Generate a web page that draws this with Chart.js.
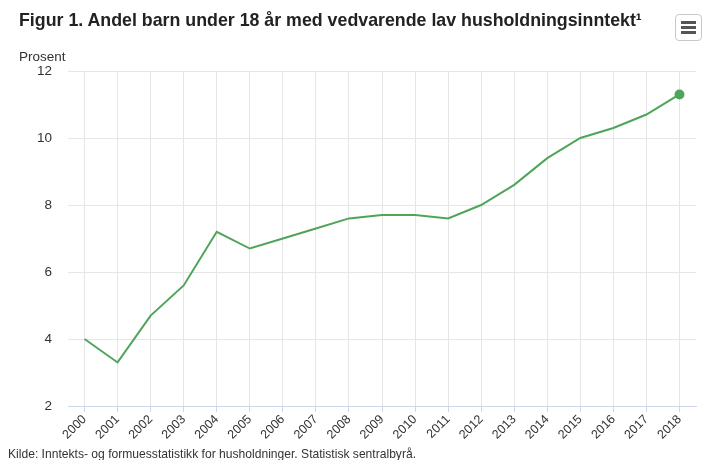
<!DOCTYPE html>
<html lang="no">
<head>
    <meta charset="UTF-8">
    <title>Figur 1</title>
    <style>
        body {
            margin: 0;
            padding: 0;
            background: #fff;
            font-family: "Liberation Sans", Arial, sans-serif;
        }

        #wrap {
            position: relative;
            width: 702px;
            height: 460px;
            overflow: hidden;
        }

        #chart {
            position: absolute;
            left: 0;
            top: 0;
        }

        .title {
            position: absolute;
            left: 19px;
            top: 10px;
            font-size: 17.8px;
            font-weight: bold;
            color: #222;
            white-space: nowrap;
        }

        .unit {
            position: absolute;
            left: 19px;
            top: 49px;
            font-size: 13.5px;
            color: #333;
        }

        .source {
            position: absolute;
            left: 8px;
            top: 447px;
            font-size: 12.1px;
            color: #333;
            white-space: nowrap;
        }

        .menu {
            position: absolute;
            left: 675px;
            top: 14px;
            width: 25px;
            height: 25px;
            border: 1px solid #c8c8c8;
            border-radius: 4px;
            background: #fff;
        }

        .menu span {
            position: absolute;
            left: 5px;
            width: 15px;
            height: 3px;
            background: #555;
        }
    </style>
    <script src="https://cdn.jsdelivr.net/npm/chart.js"></script>
</head>
<body>
<div id="wrap">
    <canvas id="chart" width="702" height="460"></canvas>
    <div class="title">Figur 1. Andel barn under 18 år med vedvarende lav husholdningsinntekt¹</div>
    <div class="unit">Prosent</div>
    <div class="menu"><span style="top:6px"></span><span style="top:11px"></span><span style="top:16px"></span></div>
    <div class="source">Kilde: Inntekts- og formuesstatistikk for husholdninger. Statistisk sentralbyrå.</div>
</div>

<script>
    const years = ['2000', '2001', '2002', '2003', '2004', '2005', '2006', '2007', '2008', '2009',
        '2010', '2011', '2012', '2013', '2014', '2015', '2016', '2017', '2018'];
    const shares = [4.0, 3.3, 4.7, 5.6, 7.2, 6.7, 7.0, 7.3, 7.6, 7.7,
        7.7, 7.6, 8.0, 8.6, 9.4, 10.0, 10.3, 10.7, 11.3];
    const yTicks = [2, 4, 6, 8, 10, 12];

    const font = "'Liberation Sans', Arial, sans-serif";
    const lastIdx = shares.length - 1;

    new Chart(document.getElementById('chart'), {
        type: 'line',
        data: {
            labels: years,
            datasets: [{
                label: 'Andel barn',
                data: shares,
                borderColor: '#4ea55a',
                backgroundColor: '#4ea55a',
                borderWidth: 2,
                tension: 0,
                pointRadius: ctx => ctx.dataIndex === lastIdx ? 4 : 0,
                pointHoverRadius: 4
            }]
        },
        options: {
            responsive: false,
            animation: false,
            layout: { padding: { top: 71, right: 5, left: 0, bottom: 0 } },
            plugins: {
                legend: { display: false },
                tooltip: { enabled: false }
            },
            scales: {
                x: {
                    offset: true,
                    grid: {
                        color: '#e6e6e6',
                        tickColor: '#ccd6eb',
                        tickLength: 6,
                        offset: false
                    },
                    border: { display: true, color: '#ccd6eb', width: 1 },
                    ticks: {
                        minRotation: 45,
                        maxRotation: 45,
                        autoSkip: false,
                        padding: 0,
                        color: '#333',
                        font: { family: font, size: 12.5 }
                    },
                    afterFit: scale => { scale.height = 54; }
                },
                y: {
                    min: 2,
                    max: 12,
                    afterBuildTicks: scale => {
                        scale.ticks = yTicks.map(v => ({ value: v }));
                    },
                    grid: { color: '#e6e6e6', drawTicks: false },
                    border: { display: false },
                    ticks: {
                        padding: 16,
                        color: '#333',
                        font: { family: font, size: 13.5 }
                    },
                    afterFit: scale => { scale.width = 68; }
                }
            }
        }
    });
</script>
</body>
</html>
